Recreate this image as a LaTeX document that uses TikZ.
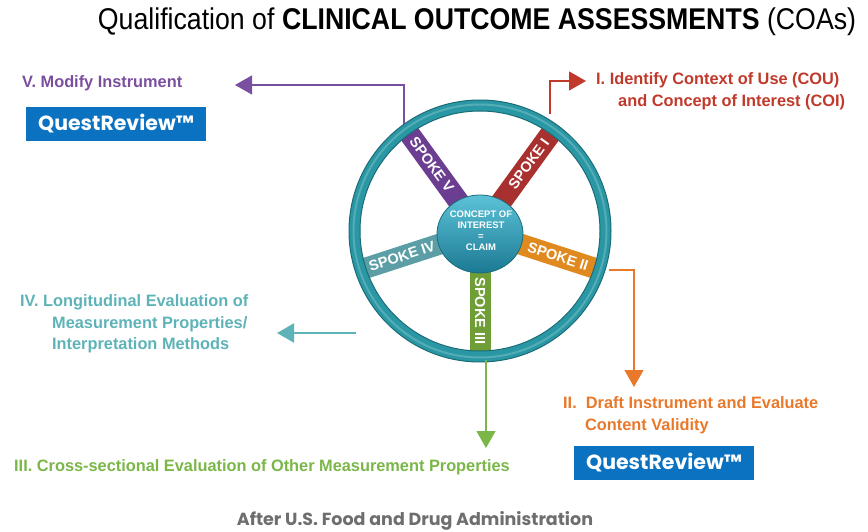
\documentclass[tikz,border=0pt]{standalone}
\usepackage{fontspec}
\setmainfont{Liberation Sans}
\newfontfamily\narrowf[FakeStretch=0.89]{Liberation Sans}
\newfontfamily\lblf[FakeStretch=0.99]{Liberation Sans}
\newfontfamily\qrf{Poppins}
\usetikzlibrary{arrows.meta,calc}
\definecolor{cpurple}{HTML}{7B4F9F}
\definecolor{cred}{HTML}{C0392B}
\definecolor{corange}{HTML}{E8782A}
\definecolor{cgreen}{HTML}{7AB648}
\definecolor{cteal}{HTML}{5DB3B7}
\definecolor{cblue}{HTML}{0B72C1}
\definecolor{cgray}{HTML}{6E6E6E}
\definecolor{ringc}{HTML}{2A98A4}
\definecolor{ringd}{HTML}{1B6C78}
\definecolor{spV}{HTML}{6B3E92}
\definecolor{spI}{HTML}{A8302E}
\definecolor{spII}{HTML}{E0891F}
\definecolor{spIII}{HTML}{6E9E35}
\definecolor{spIV}{HTML}{5B9EA6}
\definecolor{hubtop}{HTML}{5CC2D8}
\definecolor{hubbot}{HTML}{1B7A93}
\begin{document}
\begin{tikzpicture}[x=1pt,y=1pt,
  lbl/.style={inner sep=0pt,anchor=west,font=\lblf\bfseries\fontsize{16.5}{21.5}\selectfont},
  qrbox/.style={fill=cblue,text=white,minimum width=180pt,minimum height=34pt,inner sep=0pt,font=\qrf\bfseries\fontsize{20.5}{24}\selectfont},
  spoketext/.style={text=white,inner sep=0pt,font=\bfseries\fontsize{14.5}{15}\selectfont},
  conn/.style={line width=1.3pt,-{Triangle[length=17pt,width=19pt]}},
  spokebar/.style={line width=21pt}
]
\useasboundingbox (0,0) rectangle (868,-532);
% title
\node[inner sep=0pt] (title) at (477,-22) {\narrowf\fontsize{30}{34}\selectfont Qualification of \textbf{CLINICAL OUTCOME ASSESSMENTS} (COAs)};
% wheel
\coordinate (C) at (480,-231);
\draw[spokebar,spV] (C) -- ($(C)+(126:124)$);
\draw[spokebar,spI] (C) -- ($(C)+(54:124)$);
\draw[spokebar,spII] (C) -- ($(C)+(-18:124)$);
\draw[spokebar,spIV] (C) -- ($(C)+(198:124)$);
\draw[spokebar,spIII] (C) -- ($(C)+(270:124)$);
\fill[ringc,even odd rule] (C) circle (131) (C) circle (120);
\draw[ringd,line width=1pt] (C) circle (131);
\draw[ringd,line width=1pt] (C) circle (120);
\draw[white,opacity=0.2,line width=2pt] (C) circle (126.5);
\node[spoketext,rotate=54] (sI) at ($(C)+(54:83)$) {SPOKE I};
\node[spoketext,rotate=-54] (sV) at ($(C)+(126:82)$) {SPOKE V};
\node[spoketext,rotate=-18] (sII) at ($(C)+(-18:82)$) {SPOKE II};
\node[spoketext,rotate=18] (sIV) at ($(C)+(198:82)$) {SPOKE IV};
\node[spoketext,rotate=-90] (sIII) at ($(C)+(270:80)$) {SPOKE III};
% hub
\shade[top color=hubtop,bottom color=hubbot,draw=ringd,line width=0.8pt] (480,-234) ellipse (43 and 39);
\node[text=white,align=center,inner sep=0pt,font=\bfseries\fontsize{9.5}{11}\selectfont] (hub) at (481,-231) {CONCEPT OF\\INTEREST\\=\\CLAIM};
% labels
\node[lbl,text=cpurple] (labV) at (22,-83) {V.\ Modify Instrument};
\node[qrbox] (qr1) at (116,-124) {QuestReview™};
\node[lbl,text=cred,align=left] (labI) at (596,-91) {I. Identify Context of Use (COU)\\\hspace*{22pt}and Concept of Interest (COI)};
\node[lbl,text=cteal,align=left] (labIV) at (20,-324) {IV. Longitudinal Evaluation of\\\hspace*{32pt}Measurement Properties/\\\hspace*{32pt}Interpretation Methods};
\node[lbl,text=corange,align=left] (labII) at (563,-415) {II.\ \ Draft Instrument and Evaluate\\\hspace*{22pt}Content Validity};
\node[qrbox] (qr2) at (664,-463) {QuestReview™};
\node[lbl,text=cgreen] (labIII) at (14,-467) {III. Cross-sectional Evaluation of Other Measurement Properties};
\node[text=cgray,inner sep=0pt,font=\qrf\bfseries\fontsize{17.5}{19}\selectfont] (foot) at (415,-521) {After U.S. Food and Drug Administration};
% connectors
\coordinate (pV) at (404,-124);
\coordinate (tV) at (235,-85);
\draw[conn,cpurple] (pV) |- (tV);
\coordinate (pI) at (550,-114);
\coordinate (tI) at (586,-81);
\draw[conn,cred] (pI) |- (tI);
\coordinate (pII) at (609,-270);
\coordinate (tII) at (634,-387);
\draw[conn,corange] (pII) -| (tII);
\coordinate (pIV) at (356,-333);
\coordinate (tIV) at (277,-333);
\draw[conn,cteal,line width=2.2pt] (pIV) -- (tIV);
\coordinate (pIII) at (486,-360);
\coordinate (tIII) at (486,-448);
\draw[conn,cgreen] (pIII) -- (tIII);
\end{tikzpicture}
\end{document}
